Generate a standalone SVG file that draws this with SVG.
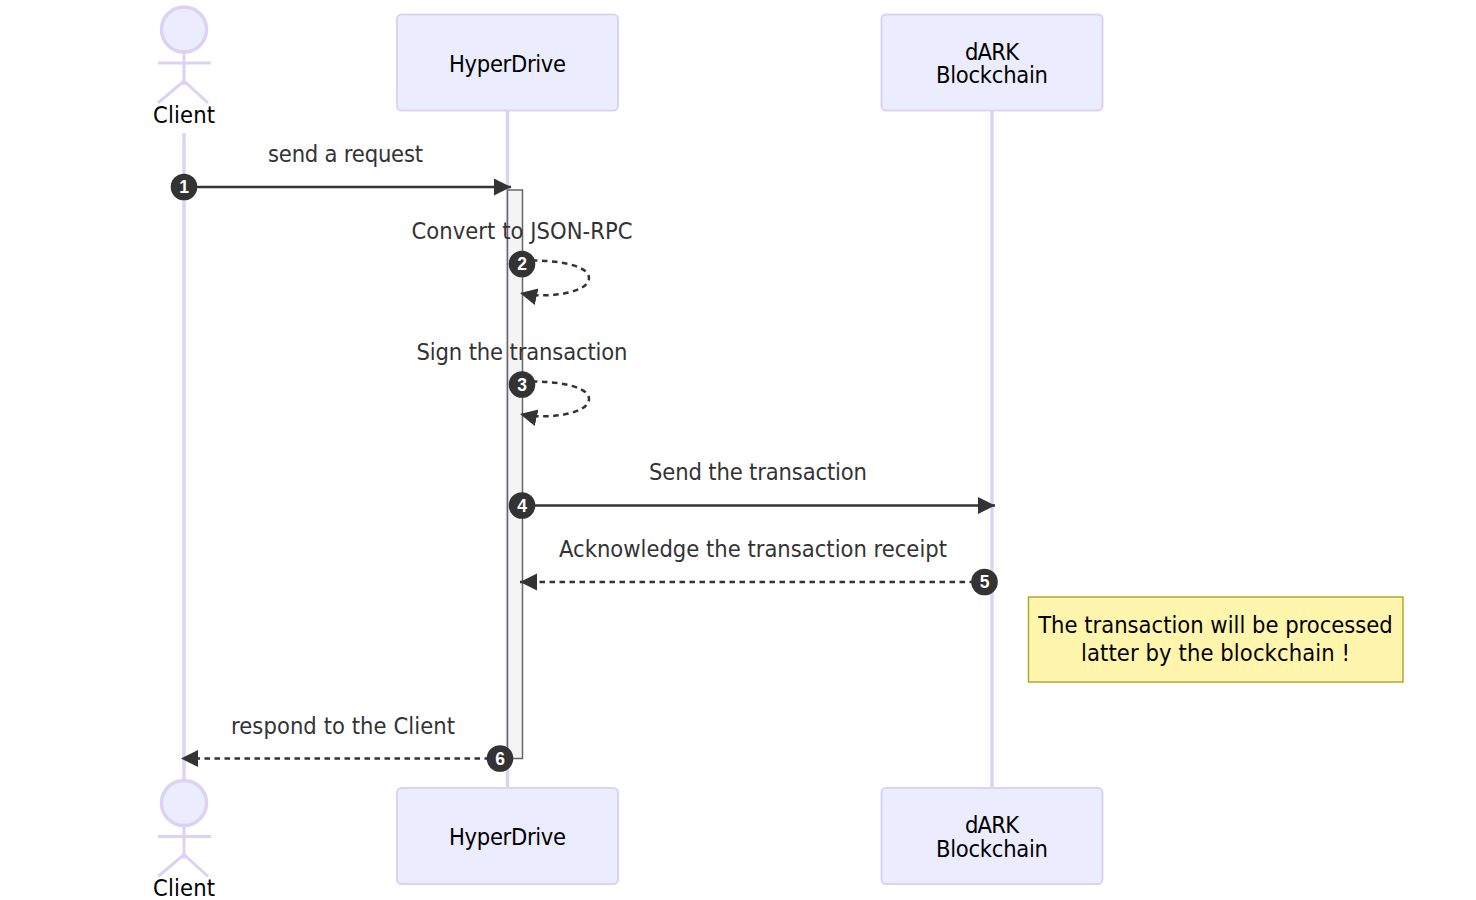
<svg xmlns="http://www.w3.org/2000/svg" width="1476" height="900" viewBox="0 0 1476 900">
<style>
text{font-family:"DejaVu Sans Condensed","DejaVu Sans",sans-serif;font-size:23.5px;text-anchor:middle}
.box{fill:#ECECFF;stroke:#dcd3f4;stroke-width:2}
.life{stroke:#dcd3f4;stroke-width:3.500;fill:none}
.act{fill:#ECECFF;stroke:#dcd3f4;stroke-width:3.500}
.lim{fill:none;stroke:#dcd3f4;stroke-width:3}
.t{fill:#000}
.m{fill:#333}
.msg{fill:none;stroke:#333;stroke-width:2.500}
.dash{stroke-dasharray:5.500 4.500}
.b{fill:#333}
.n{fill:#fff;font-size:17.500px;font-family:"Liberation Sans",Arial,sans-serif;font-weight:bold}
</style>
<defs>
<marker id="ah" markerUnits="userSpaceOnUse" markerWidth="18" markerHeight="18" refX="17" refY="8.500" orient="auto"><path d="M0 0L17 8.500L0 17z" fill="#333"/></marker>
<g id="person"><circle cx="0" cy="29.500" r="22.500" class="act"/><path class="lim" d="M0 52V85M-26 63H27M-26 103L0 81L24 103"/></g>
</defs>
<g id="lifelines">
<path class="life" d="M184 133V788M507.500 110V788M992 110V788"/>
</g>
<g id="activation"><rect x="507.500" y="190" width="15" height="568.500" fill="#f4f4f4" stroke="#666" stroke-width="1.500"/></g>
<g id="connectors">
<path class="msg" marker-end="url(#ah)" d="M184 187H511"/>
<path class="msg dash" marker-end="url(#ah)" d="M522 261C545 259 589 263 589 278C589 293 547 299 520 293"/>
<path class="msg dash" marker-end="url(#ah)" d="M522 382C545 380 589 384 589 399C589 414 547 420 520 414"/>
<path class="msg" marker-end="url(#ah)" d="M522 505.500H995"/>
<path class="msg dash" marker-end="url(#ah)" d="M985 582H520"/>
<path class="msg dash" marker-end="url(#ah)" d="M500 758.500H181"/>
</g>
<g id="client-top"><use href="#person" x="184" y="0"/><text class="t" x="184" y="123" textLength="62">Client</text></g>
<g id="hyperdrive-top"><rect class="box" x="397" y="14.500" width="221" height="96" rx="4.500"/><text class="t" x="507.500" y="72" textLength="117">HyperDrive</text></g>
<g id="dark-top"><rect class="box" x="881.500" y="14.500" width="221" height="96" rx="4.500"/><text class="t" x="992" y="60" textLength="54">dARK</text><text class="t" x="992" y="83" textLength="112">Blockchain</text></g>
<g id="client-bottom"><use href="#person" x="184" y="773.500"/><text class="t" x="184" y="896" textLength="62">Client</text></g>
<g id="hyperdrive-bottom"><rect class="box" x="397" y="788" width="221" height="96" rx="4.500"/><text class="t" x="507.500" y="845" textLength="117">HyperDrive</text></g>
<g id="dark-bottom"><rect class="box" x="881.500" y="788" width="221" height="96" rx="4.500"/><text class="t" x="992" y="833" textLength="54">dARK</text><text class="t" x="992" y="857" textLength="112">Blockchain</text></g>
<g id="note"><rect x="1028.500" y="597" width="374.500" height="85" fill="#fff5ad" stroke="#aaaa33" stroke-width="1.500"/><text class="t" x="1215.500" y="632.500">The transaction will be processed</text><text class="t" x="1215.500" y="660.500" textLength="269">latter by the blockchain !</text></g>
<g id="labels">
<text class="m" x="345.500" y="162" textLength="155">send a request</text>
<text class="m" x="522" y="239" textLength="221">Convert to JSON-RPC</text>
<text class="m" x="522" y="360" textLength="211">Sign the transaction</text>
<text class="m" x="758" y="480" textLength="218">Send the transaction</text>
<text class="m" x="753" y="557">Acknowledge the transaction receipt</text>
<text class="m" x="343" y="734" textLength="224">respond to the Client</text>
</g>
<g id="badges">
<circle class="b" cx="184" cy="187" r="13.300"/><text class="n" x="184" y="193">1</text>
<circle class="b" cx="522" cy="264" r="13.300"/><text class="n" x="522" y="270">2</text>
<circle class="b" cx="522" cy="384.500" r="13.300"/><text class="n" x="522" y="390.500">3</text>
<circle class="b" cx="522" cy="505.500" r="13.300"/><text class="n" x="522" y="511.500">4</text>
<circle class="b" cx="984.500" cy="582" r="13.300"/><text class="n" x="984.500" y="588">5</text>
<circle class="b" cx="500" cy="758.500" r="13.300"/><text class="n" x="500" y="764.500">6</text>
</g>
</svg>
